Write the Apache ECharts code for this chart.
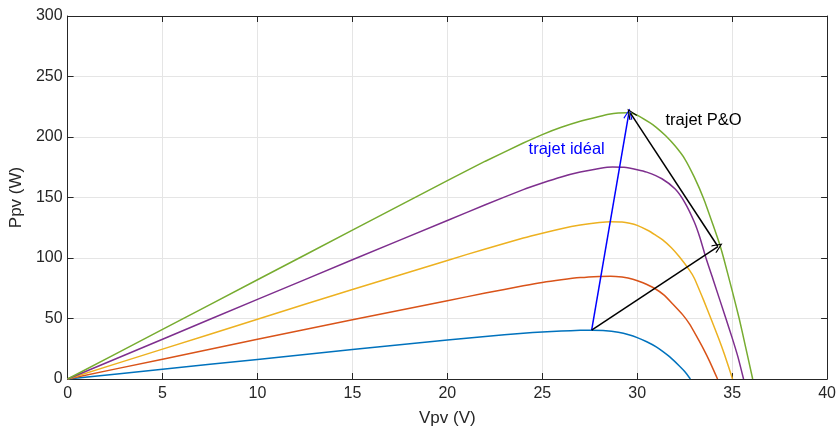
<!DOCTYPE html>
<html>
<head>
<meta charset="utf-8">
<script src="https://cdn.jsdelivr.net/npm/echarts@6/dist/echarts.min.js"></script>
<style>html,body{margin:0;padding:0;background:#fff}#c{width:839px;height:432px}</style>
</head>
<body>
<div id="c"></div>
<script>
// Voltage (V) / Power (W) pairs, one list per irradiance curve
const curveBlue = [[0,0],[5,8.1],[10,16.2],[15,24.3],[20,32.2],[22,35.2],[24,37.8],[25,38.9],[26,39.7],[27,40.2],[27.6,40.3],[28.2,40],[29,38.6],[29.6,36.4],[30,34.2],[30.5,30.8],[31,26.6],[31.34,22.9],[31.7,18.5],[32.22,10.8],[32.5,6.2],[32.8,0]];
const curveRed = [[0,0],[5,16.4],[10,32.8],[15,49],[20,64.7],[22,71],[24,77],[25,79.8],[26,82],[27,83.8],[28,84.8],[28.6,85],[29.2,84.2],[29.77,82.5],[30.3,79.5],[30.9,75],[31.4,69.5],[31.87,62],[32.4,53],[32.75,45.5],[33.1,36],[33.5,24.5],[33.8,15],[34.23,0]];
const curveYellow = [[0,0],[5,24.7],[10,49.4],[15,74],[20,98],[22,107.5],[24,116.5],[25,120.5],[26,124.2],[27,127.2],[28,129.3],[28.6,130],[29.2,129.8],[29.6,128.8],[30,127],[30.6,122.5],[31,118.5],[31.34,115],[31.8,108.5],[32.22,101],[32.75,90],[33,83.5],[33.5,65],[33.88,50],[34.3,33],[34.6,20],[35.02,0]];
const curvePurple = [[0,0],[5,32.9],[10,65.8],[15,98.5],[20,131],[22,144],[24,156.5],[25,162],[26,167],[27,171],[28,174],[28.7,175.2],[29.3,175],[30,173],[30.5,171],[31.3,165.5],[32,157],[32.5,146],[33,130],[33.3,117],[33.62,100],[34,82],[34.67,50],[35,34],[35.3,18.5],[35.6,0]];
const curveGreen = [[0,0],[5,41],[10,82],[15,123],[20,164],[22,180],[24,195],[25,202],[26,208],[27,213],[28,217],[28.5,218.8],[29,219.8],[29.5,220],[30,218],[30.64,212],[31,208],[31.5,201],[32,192.5],[32.5,182],[33,167],[33.5,149],[34,127],[34.36,110.4],[34.55,100],[35,73],[35.37,50],[35.7,27],[36.08,0]];

// arrows (start, end) in data coordinates
const arrowIdeal = [[27.6,40.3],[29.55,219]];
const arrowPO1 = [[27.6,40.3],[34.25,109.5]];
const arrowPO2 = [[34.25,109.5],[29.65,219.5]];

// annotations: [text, V at left edge, P at vertical centre]
const noteIdeal = ['trajet idéal', 24.28, 189.9];
const notePO = ['trajet P&O', 31.49, 213.7];

const xTicks = [0,5,10,15,20,25,30,35,40];
const yTicks = [0,50,100,150,200,250,300];

const FONT = 'Liberation Sans, Arial, sans-serif';
const AX = '#262626';
const arrowHead = 'path://M0,0 L6,10 L4.8,11 L0,2.4 L-4.8,11 L-6,10 Z';

function curve(name, data, color) {
  return { name, type: 'line', data, showSymbol: false, smooth: 0.2, symbol: 'none',
    lineStyle: { color, width: 1.5 }, itemStyle: { color }, z: 3, animation: false };
}
function arrowLine(pts, color) {
  return { type: 'line', data: [], markLine: { silent: true, animation: false,
    symbol: ['none', arrowHead], symbolSize: [9, 11],
    lineStyle: { color, width: 1.5, type: 'solid' }, label: { show: false },
    data: [[{ coord: pts[0] }, { coord: pts[1] }]] }, z: 5 };
}

const chart = echarts.init(document.getElementById('c'), null, { renderer: 'canvas' });
const baseX = { type: 'value', min: 0, max: 40, interval: 5, splitLine: { show: false },
  axisLine: { show: true, onZero: false, lineStyle: { color: AX, width: 1 } },
  axisTick: { show: true, inside: true, length: 6, lineStyle: { color: AX } } };
const baseY = { type: 'value', min: 0, max: 300, interval: 50, splitLine: { show: false },
  axisLine: { show: true, onZero: false, lineStyle: { color: AX, width: 1 } },
  axisTick: { show: true, inside: true, length: 6, lineStyle: { color: AX } } };

chart.setOption({
  animation: false,
  backgroundColor: '#fff',
  grid: { left: 67, right: 11, top: 16, bottom: 51, containLabel: false },
  xAxis: [
    Object.assign({}, baseX, { position: 'bottom', name: 'Vpv (V)', nameLocation: 'middle', nameGap: 31,
      nameTextStyle: { color: AX, fontSize: 17, fontFamily: FONT },
      splitLine: { show: true, lineStyle: { color: '#e5e5e5', width: 1 } },
      axisLabel: { color: AX, fontSize: 16, fontFamily: FONT, margin: 7,
        formatter: v => xTicks.includes(v) ? String(v) : '' } }),
    Object.assign({}, baseX, { position: 'top', axisLabel: { show: false } })
  ],
  yAxis: [
    Object.assign({}, baseY, { position: 'left', name: 'Ppv (W)', nameLocation: 'middle', nameGap: 37,
      nameTextStyle: { color: AX, fontSize: 17, fontFamily: FONT },
      splitLine: { show: true, lineStyle: { color: '#e5e5e5', width: 1 } },
      axisLabel: { color: AX, fontSize: 16, fontFamily: FONT, margin: 5,
        formatter: v => yTicks.includes(v) ? String(v) : '' } }),
    Object.assign({}, baseY, { position: 'right', axisLabel: { show: false } })
  ],
  series: [
    curve('blue', curveBlue, '#0072BD'),
    curve('red', curveRed, '#D95319'),
    curve('yellow', curveYellow, '#EDB120'),
    curve('purple', curvePurple, '#7E2F8E'),
    curve('green', curveGreen, '#77AC30'),
    arrowLine(arrowIdeal, '#0000FF'),
    arrowLine(arrowPO1, '#000000'),
    arrowLine(arrowPO2, '#000000')
  ]
});

function place(note, color) {
  const p = chart.convertToPixel({ xAxisIndex: 0, yAxisIndex: 0 }, [note[1], note[2]]);
  return { type: 'text', x: p[0], y: p[1], z: 10,
    style: { text: note[0], fill: color, fontSize: 16.5, fontFamily: FONT, verticalAlign: 'middle', align: 'left' } };
}
chart.setOption({ graphic: [place(noteIdeal, '#0000FF'), place(notePO, '#000000')] });
</script>
</body>
</html>
